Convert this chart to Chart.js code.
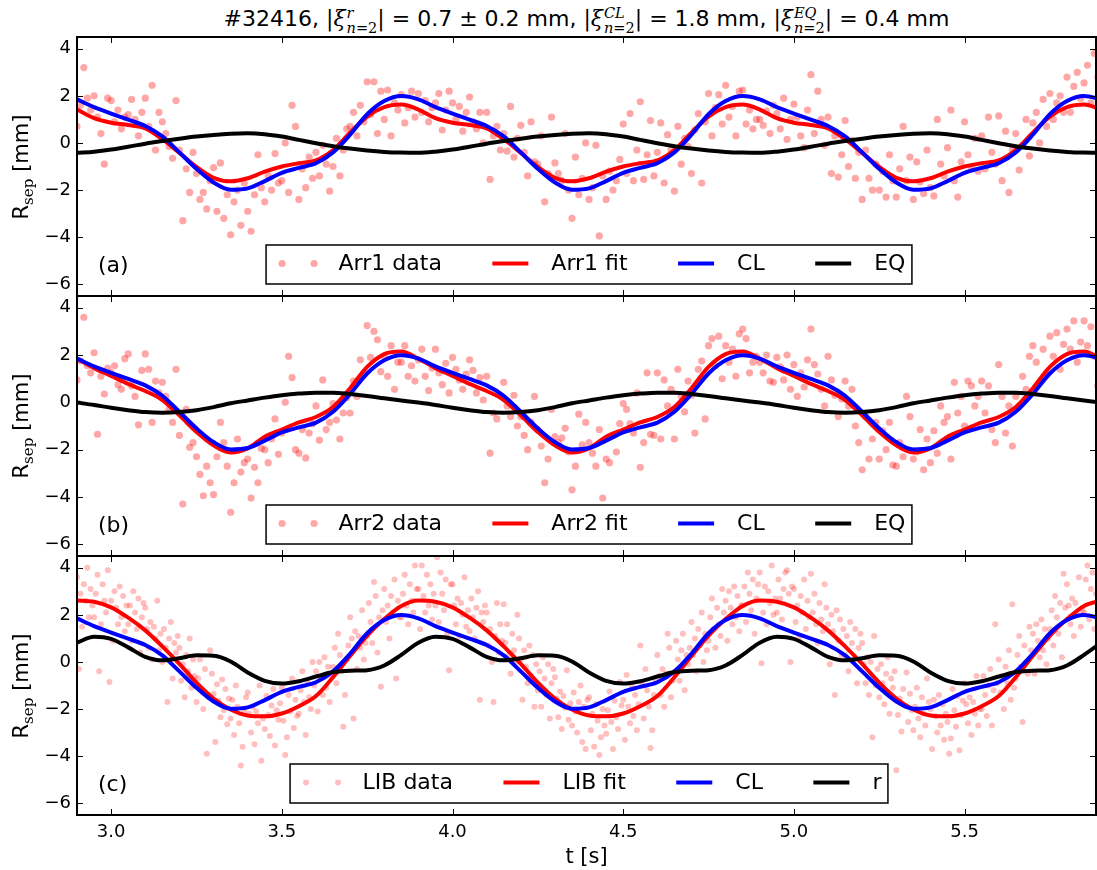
<!DOCTYPE html>
<html>
<head>
<meta charset="utf-8">
<title>#32416 separatrix displacement</title>
<script src="https://cdn.jsdelivr.net/npm/chart.js@4.4.1/dist/chart.umd.min.js"></script>
<style>
html,body{margin:0;padding:0;background:#fff;}
body{width:1097px;height:870px;position:relative;overflow:hidden;font-family:"DejaVu Sans",sans-serif;color:#000;}
canvas{position:absolute;left:0;}
#title{position:absolute;left:586.5px;top:6px;transform:translateX(-50%);font-size:22px;line-height:26px;white-space:nowrap;}
.mt{font-family:"DejaVu Serif",serif;}
.sc{display:inline-block;font-size:0.66em;line-height:1;vertical-align:-0.42em;margin-left:1px;text-align:left;}
.sc span{display:block;}
.ylab{position:absolute;left:21.7px;font-size:21px;line-height:24px;white-space:nowrap;transform:translate(-50%,-50%) rotate(-90deg);}
.ylab .sub{font-family:"DejaVu Serif",serif;font-size:0.72em;position:relative;top:0.32em;}
.plab{position:absolute;left:98px;font-size:22px;line-height:26px;}
</style>
</head>
<body>
<div id="title">#32416, <span class="mt">|<i>ξ</i><span class="sc"><span><i>r</i></span><span><i>n</i>=2</span></span>|</span> = 0.7 <span class="mt">±</span> 0.2 mm, <span class="mt">|<i>ξ</i><span class="sc"><span><i>CL</i></span><span><i>n</i>=2</span></span>|</span> = 1.8 mm, <span class="mt">|<i>ξ</i><span class="sc"><span><i>EQ</i></span><span><i>n</i>=2</span></span>|</span> = 0.4 mm</div>

<canvas id="panelA" width="1097" height="300" style="top:0px"></canvas>
<canvas id="panelB" width="1097" height="270" style="top:290px"></canvas>
<canvas id="panelC" width="1097" height="320" style="top:550px"></canvas>

<div class="ylab" style="top:166.5px">R<span class="sub">sep</span> [mm]</div>
<div class="ylab" style="top:426px">R<span class="sub">sep</span> [mm]</div>
<div class="ylab" style="top:685.5px">R<span class="sub">sep</span> [mm]</div>

<div class="plab" style="top:251.5px">(a)</div>
<div class="plab" style="top:511.5px">(b)</div>
<div class="plab" style="top:770.5px">(c)</div>

<script>
// ---- axis ticks ----
const xTicks = [3.0, 3.5, 4.0, 4.5, 5.0, 5.5];
const yTicks = [4, 2, 0, -2, -4, -6];

// ---- time base of the fitted / model curves [s] ----
const tFit = [
  2.90, 2.95, 3.00, 3.05, 3.10, 3.15, 3.20, 3.25, 3.30, 3.35, 3.40, 3.45, 3.50, 3.55, 3.60, 3.65, 3.70, 3.75, 3.80, 3.85,
  3.90, 3.95, 4.00, 4.05, 4.10, 4.15, 4.20, 4.25, 4.30, 4.35, 4.40, 4.45, 4.50, 4.55, 4.60, 4.65, 4.70, 4.75, 4.80, 4.85,
  4.90, 4.95, 5.00, 5.05, 5.10, 5.15, 5.20, 5.25, 5.30, 5.35, 5.40, 5.45, 5.50, 5.55, 5.60, 5.65, 5.70, 5.75, 5.80, 5.85,
  5.90
];

// CL model displacement [mm] (same in all three panels)
const clModel = [
  1.85, 1.52, 1.25, 0.99, 0.72, 0.28, -0.40, -1.10, -1.68, -1.99, -1.93, -1.62, -1.27, -1.06, -0.86, -0.40, 0.35, 1.22, 1.78, 1.99,
  1.85, 1.52, 1.25, 0.99, 0.72, 0.28, -0.40, -1.10, -1.68, -1.99, -1.93, -1.62, -1.27, -1.06, -0.86, -0.40, 0.35, 1.22, 1.78, 1.99,
  1.85, 1.52, 1.25, 0.99, 0.72, 0.28, -0.40, -1.10, -1.68, -1.99, -1.93, -1.62, -1.27, -1.06, -0.86, -0.40, 0.35, 1.22, 1.78, 1.99,
  1.85
];

// (a) Arr1 fit and EQ model
const arr1Fit = [
  1.42, 1.05, 0.86, 0.76, 0.62, 0.16, -0.42, -1.02, -1.48, -1.63, -1.50, -1.22, -1.00, -0.86, -0.74, -0.30, 0.44, 1.12, 1.52, 1.63,
  1.42, 1.05, 0.86, 0.76, 0.62, 0.16, -0.42, -1.02, -1.48, -1.63, -1.50, -1.22, -1.00, -0.86, -0.74, -0.30, 0.44, 1.12, 1.52, 1.63,
  1.42, 1.05, 0.86, 0.76, 0.62, 0.16, -0.42, -1.02, -1.48, -1.63, -1.50, -1.22, -1.00, -0.86, -0.74, -0.30, 0.44, 1.12, 1.52, 1.63,
  1.42
];
const eqModelA = [
  -0.42, -0.37, -0.28, -0.16, -0.03, 0.08, 0.18, 0.27, 0.34, 0.39, 0.41, 0.37, 0.27, 0.13, -0.01, -0.14, -0.24, -0.32, -0.38, -0.41,
  -0.42, -0.37, -0.28, -0.16, -0.03, 0.08, 0.18, 0.27, 0.34, 0.39, 0.41, 0.37, 0.27, 0.13, -0.01, -0.14, -0.24, -0.32, -0.38, -0.41,
  -0.42, -0.37, -0.28, -0.16, -0.03, 0.08, 0.18, 0.27, 0.34, 0.39, 0.41, 0.37, 0.27, 0.13, -0.01, -0.14, -0.24, -0.32, -0.38, -0.41,
  -0.42
];

// (b) Arr2 fit and EQ model
const arr2Fit = [
  1.85, 1.45, 1.12, 0.78, 0.48, 0.10, -0.55, -1.25, -1.82, -2.12, -1.95, -1.45, -1.15, -0.85, -0.62, -0.20, 0.60, 1.50, 2.04, 2.15,
  1.85, 1.45, 1.12, 0.78, 0.48, 0.10, -0.55, -1.25, -1.82, -2.12, -1.95, -1.45, -1.15, -0.85, -0.62, -0.20, 0.60, 1.50, 2.04, 2.15,
  1.85, 1.45, 1.12, 0.78, 0.48, 0.10, -0.55, -1.25, -1.82, -2.12, -1.95, -1.45, -1.15, -0.85, -0.62, -0.20, 0.60, 1.50, 2.04, 2.15,
  1.85
];
const eqModelB = [
  -0.01, -0.11, -0.23, -0.33, -0.41, -0.44, -0.41, -0.33, -0.20, -0.04, 0.08, 0.20, 0.30, 0.37, 0.41, 0.41, 0.35, 0.27, 0.17, 0.08,
  -0.01, -0.11, -0.23, -0.33, -0.41, -0.44, -0.41, -0.33, -0.20, -0.04, 0.08, 0.20, 0.30, 0.37, 0.41, 0.41, 0.35, 0.27, 0.17, 0.08,
  -0.01, -0.11, -0.23, -0.33, -0.41, -0.44, -0.41, -0.33, -0.20, -0.04, 0.08, 0.20, 0.30, 0.37, 0.41, 0.41, 0.35, 0.27, 0.17, 0.08,
  -0.01
];

// (c) LIB fit and r model
const libFit = [
  2.61, 2.56, 2.32, 1.88, 1.34, 0.66, -0.08, -0.88, -1.55, -2.02, -2.27, -2.31, -2.19, -1.88, -1.45, -0.65, 0.25, 1.12, 1.82, 2.38,
  2.61, 2.56, 2.32, 1.88, 1.34, 0.66, -0.08, -0.88, -1.55, -2.02, -2.27, -2.31, -2.19, -1.88, -1.45, -0.65, 0.25, 1.12, 1.82, 2.38,
  2.61, 2.56, 2.32, 1.88, 1.34, 0.66, -0.08, -0.88, -1.55, -2.02, -2.27, -2.31, -2.19, -1.88, -1.45, -0.65, 0.25, 1.12, 1.82, 2.38,
  2.61
];
const rModel = [
  0.82, 1.07, 0.98, 0.62, 0.22, 0.07, 0.16, 0.28, 0.26, 0.02, -0.45, -0.80, -0.92, -0.82, -0.62, -0.43, -0.37, -0.35, -0.15, 0.30,
  0.82, 1.07, 0.98, 0.62, 0.22, 0.07, 0.16, 0.28, 0.26, 0.02, -0.45, -0.80, -0.92, -0.82, -0.62, -0.43, -0.37, -0.35, -0.15, 0.30,
  0.82, 1.07, 0.98, 0.62, 0.22, 0.07, 0.16, 0.28, 0.26, 0.02, -0.45, -0.80, -0.92, -0.82, -0.62, -0.43, -0.37, -0.35, -0.15, 0.30,
  0.82
];

// ---- measured samples: Arr1 / Arr2 every 10 ms, LIB every 5 ms, from t = 2.90 s ----
const arrStart = 2.90, arrStep = 0.01;
const libStart = 2.90, libStep = 0.005;

const arr1Data = [
  0.7, 1.6, 3.2, 1.9, 1.4,  2.0, 1.1, 0.4, -0.9, 1.9,  1.8, 0.9, 1.4, 0.6, 1.1,  1.2, 1.85, 1.0, 0.3, 1.3,
  1.9, 0.7, 2.45, -0.3, 1.3,  0.9, 0.4, -0.15, -0.65, 1.8,  -0.3, -3.3, -1.1, -2.1, -0.4,  -1.3, -2.4, -2.1, -2.8, -1.6,
  -1.05, -2.9, -0.85, -3.2, -2.2,  -3.9, -2.5, -2.0, -3.5, -1.7,  -2.9, -3.75, -2.2, -0.5, -1.9,  -2.5, -1.4, -2.0, -0.45, -1.7,
  -1.6, 0.0, -2.1, 1.6, 0.7,  -2.4, -1.1, -1.9, -0.6, -1.5,  -0.4, -1.4, -0.1, -0.9, -2.05,  -1.0, 0.2, -1.4, -0.3, 0.6,
  0.7, 1.3, 0.3, 1.6, 0.9,  2.6, 1.2, 2.6, 0.4, 2.2,  1.0, 2.25, 0.3, 1.7, 1.4,  2.05, 0.85, 1.5, 2.2, 1.1,
  2.1, 1.3, 1.8, 0.9, 1.5,  1.7, 2.1, 0.55, 1.4, 2.2,  1.7, 1.0, 1.55, 0.5, 1.3,  1.95, 0.9, 0.6, 1.3, 0.0,
  1.3, -1.55, 0.3, 0.7, -0.3,  0.4, -0.35, 1.55, -0.6, 0.2,  0.75, -0.4, -1.4, 0.9, -0.8,  -0.9, 0.3, -2.5, -1.3, 1.1,
  -0.85, -1.3, -1.6, 0.4, -2.0,  -3.2, -0.6, -2.2, -1.5, 0.0,  -2.4, -1.9, -0.1, -3.95, -1.4,  -2.4, -1.2, -2.0, -1.6, -0.7,
  0.8, -1.3, 1.25, -1.6, -0.3,  1.75, -1.55, -0.5, 0.95, -1.4,  -0.4, 0.85, -1.7, 0.35, -0.3,  -2.05, 0.7, -0.9, 0.2, -0.15,
  -1.3, 0.55, 1.25, -1.7, 0.9,  2.1, 0.3, 1.5, 2.05, 0.8,  2.45, 1.1, 1.55, 0.3, 2.2,  2.25, 0.8, 1.4, 0.6, 1.0,
  1.0, 0.75, 1.35, 0.4, 1.6,  1.25, 0.6, 1.9, 0.15, 1.0,  1.65, 1.1, 0.3, -0.2, 1.4,  2.9, 0.4, 2.2, 1.0, -0.1,
  1.1, -1.3, 0.3, -1.45, -0.5,  0.95, -1.0, 0.1, -1.5, -0.4,  -2.4, -0.3, -1.5, -2.0, -0.9,  -2.0, -1.2, -2.3, -0.5, -1.6,
  -2.3, -1.1, 0.7, -1.6, -0.6,  -2.4, -0.8, -1.65, -2.15, -0.3,  -1.9, -2.25, 1.0, -0.9, -1.4,  -0.2, 1.4, -1.6, -2.3, -0.8,
  0.9, -0.5, -1.0, 0.2, -1.2,  0.3, -1.1, 1.1, -0.4, -0.9,  1.15, -1.6, 0.5, -2.1, -0.3,  0.4, -1.15, -0.1, 1.0, -0.55,
  0.85, 1.3, 0.0, 1.85, 0.7,  2.1, 1.0, 1.7, 2.0, 1.3,  2.8, 1.3, 2.4, 3.0, 1.9,  2.55, 3.3, 1.7, 3.8, 2.8
];

const arr2Data = [
  0.95, 1.75, 3.6, 1.55, 1.25,  2.1, -1.35, 1.1, 0.35, 1.45,  1.25, 1.55, 0.75, 0.55, 1.85,  2.05, 0.7, 0.25, -0.95, 1.35,
  2.05, 1.4, -0.85, 0.9, 0.4,  0.85, 0.25, -0.3, -0.85, 1.4,  -1.4, -4.3, -0.3, -1.9, -1.7,  -2.3, -3.05, -3.95, -2.7, -3.4,
  -3.9, -2.3, -0.85, -1.7, -2.7,  -4.65, -3.4, -1.55, -2.95, -2.55,  -2.4, -4.05, -2.75, -3.4, -1.95,  -2.0, -2.55, -1.55, -0.7, -2.2,
  -1.3, 0.0, 1.95, 1.05, -2.0,  -2.15, -1.15, -2.35, -1.3, -0.9,  -0.15, -1.6, 0.95, -1.15, -0.85,  -0.05, -0.75, -1.55, -0.45, 0.2,
  -0.45, 0.9, 0.25, 1.8, 1.25,  3.25, 1.9, 3.0, 2.65, 1.3,  1.95, 1.1, 2.4, 0.55, 1.7,  1.7, 2.4, 1.1, 1.55, 0.9,
  1.8, 2.25, 1.1, 0.5, 1.45,  2.25, 1.25, 0.75, 1.65, 0.4,  1.9, 1.4, 0.95, 0.55, 1.2,  1.8, 1.35, 0.4, 1.05, 0.1,
  1.1, -2.15, -0.45, -0.7, 0.3,  0.85, -0.15, -0.6, 0.3, -1.0,  -0.6, -1.4, -2.0, -0.85, 0.25,  -1.15, -1.85, -3.4, -2.4, -0.3,
  -1.45, -1.7, -1.5, -1.1, -2.1,  -3.7, -2.7, -0.5, -1.8, -0.85,  -1.7, -2.15, -2.7, -1.15, -4.05,  -2.4, -2.55, -1.4, -2.1, -0.9,
  -0.05, -0.3, -0.9, -1.3, 0.4,  -2.75, -1.7, 1.25, -1.35, -1.4,  1.25, -1.55, 0.95, -0.15, 0.55,  -1.55, 1.4, 0.25, -0.4, 0.9,
  0.3, -1.3, 1.4, 1.75, -0.7,  2.4, 2.7, 1.55, 2.8, 1.0,  2.4, 1.7, 2.25, 1.1, 2.9,  3.1, 2.7, 1.25, 1.7, 1.95,
  1.7, 1.25, 2.0, 0.9, 0.85,  1.9, 1.5, 0.95, 2.0, 0.55,  1.6, 0.25, 1.25, 0.65, 1.8,  3.1, 1.6, 1.2, 0.55, -0.15,
  1.95, 0.95, 0.3, -0.6, 0.15,  0.9, -0.15, 0.55, -1.0, -1.7,  -2.85, -0.6, -2.4, -1.55, -0.85,  -2.4, -1.2, -2.0, -0.85, -2.65,
  -2.7, -1.7, -2.3, 0.25, -0.6,  -2.4, -2.1, -1.15, -2.85, -1.55,  -2.55, -1.2, -2.15, -0.15, -0.85,  -0.6, -2.4, 0.85, -0.45, 0.25,
  -1.0, 0.9, 0.7, -0.15, 0.25,  0.9, -0.45, 0.7, -1.15, -1.7,  1.6, 0.25, -1.3, -0.15, -1.85,  0.25, -0.15, 1.1, 0.55, 1.95,
  2.4, 1.7, 0.85, 2.25, 1.25,  2.8, 1.95, 2.95, 1.4, 2.45,  3.1, 2.25, 3.45, 1.7, 2.55,  3.45, 2.4, 3.2, 1.95, 0.7
];

const libData = [
  3.6, -0.3, 2.9, 1.5, 3.3, 2.6, 4.0, 1.9, 3.1, 2.4,
  1.9, 2.9, 3.7, -0.4, 1.6, 3.3, 2.6, 2.1, 3.9, -0.85,
  2.6, 0.9, 3.0, 2.3, 1.6, 3.2, 1.9, 2.8, 1.3, 2.4,
  1.6, 2.4, 0.9, 3.0, 2.1, 1.4, 2.7, 0.4, 1.9, 2.5,
  2.3, 1.4, 0.6, 1.7, 0.1, 1.5, 1.0, 2.6, 0.5, 1.2,
  0.0, 1.4, 0.6, -1.7, 1.0, 1.7, -0.7, 0.8, 0.4, 1.1,
  0.6, -0.8, -0.1, -1.5, 0.3, -0.4, 1.0, -1.1, 0.1, -0.6,
  -1.7, -0.7, 0.1, -1.2, -2.0, -0.3, -3.9, -1.5, 0.5, -0.5,
  -1.35, -3.4, -0.95, -1.65, -2.35, -0.75, -2.05, -1.15, -2.65, -1.55,
  -2.4, -1.6, -3.1, -1.0, -1.9, -2.6, -4.4, -3.6, -2.1, -1.5,
  -1.3, -2.2, -3.0, -1.9, -3.5, -2.1, -2.6, -1.0, -4.2, -2.4,
  -2.85, -1.45, -2.25, -3.15, -1.85, -1.15, -3.55, -2.05, -2.45, -1.75,
  -1.1, -2.5, -3.95, -3.2, -1.4, -2.1, -0.7, -2.8, -1.6, -2.3,
  -2.2, -1.2, -0.4, -1.7, -3.1, -0.8, -1.5, -2.0, 0.0, -1.0,
  -0.4, -2.1, 0.0, -0.7, -1.4, 0.2, -1.1, -0.2, -1.7, -0.6,
  -0.2, 0.6, -0.9, 1.2, 0.3, -0.4, -2.75, -1.4, 0.1, 0.7,
  1.9, 1.0, -2.4, 1.3, -0.3, 1.1, 0.6, 2.2, 0.1, 0.8,
  1.1, 2.5, 1.7, 0.8, 3.4, 2.8, 0.4, 1.9, -1.05, 2.2,
  3.1, 1.7, 2.4, 1.0, 2.8, 2.1, 3.5, -0.7, 2.6, 1.9,
  1.9, 2.9, 3.7, 2.4, 1.6, 3.3, 2.6, 2.1, 4.1, 3.1,
  3.1, 1.4, 4.1, 2.8, 2.1, 3.7, 2.4, 3.3, 1.8, 2.9,
  2.4, 4.45, 1.7, 3.8, 2.9, 2.2, 3.5, 1.2, -0.35, 3.3,
  3.3, 2.4, 1.6, 2.7, 1.1, 2.5, 2.0, 3.6, 1.5, 2.2,
  1.3, 2.7, 1.9, 1.0, 2.3, 3.0, -1.6, 2.1, 1.7, 2.4,
  2.1, 0.7, 1.4, 0.0, -1.7, 1.1, 2.5, 0.4, 1.6, 0.9,
  2.45, 0.8, 1.6, 0.3, -0.5, 1.2, 0.5, 0.0, 2.0, 1.0,
  0.1, -1.6, 0.5, -0.2, -0.9, 0.7, -0.6, 0.3, -1.9, -0.1,
  -1.2, -0.4, -1.9, 0.2, -0.7, -1.4, -0.1, -2.4, -0.9, -0.3,
  -0.65, -1.55, -2.35, -1.25, -2.85, -1.45, -1.95, -0.35, -2.45, -1.75,
  -2.7, -1.3, -2.1, -3.0, -1.7, -1.0, -3.4, -1.9, -3.7, -1.6,
  -1.5, -2.9, -2.2, -3.6, -1.8, -2.5, -3.95, -3.2, -2.0, -2.7,
  -3.05, -2.05, -1.25, -2.55, -3.7, -1.65, -2.35, -2.85, -0.85, -1.85,
  -1.6, -3.3, -0.55, -1.9, -2.6, -1.0, -2.3, -1.4, -2.9, -1.8,
  0.7, -0.9, -2.4, -0.3, -1.2, -1.9, -3.65, -2.9, -1.4, -0.8,
  0.3, -0.6, -1.4, -0.3, -1.9, -0.5, 1.2, 0.6, -1.5, -0.8,
  -0.5, 0.9, 0.1, -0.8, 0.5, 1.2, -1.2, 0.3, -0.1, 0.6,
  1.7, 0.3, 1.0, -0.4, 1.4, 0.7, 2.1, 0.0, 1.2, 0.5,
  0.9, 1.9, 2.7, 1.4, 0.6, 2.3, 1.6, 1.1, 3.1, 2.1,
  2.6, 0.9, 3.0, 2.3, 1.6, 3.2, 1.9, 2.8, 1.3, 2.4,
  2.4, 3.2, 1.7, 3.8, 2.9, 2.2, 3.5, 1.2, 2.7, 3.3,
  3.8, -0.05, 2.1, 3.2, 1.6, 3.0, 2.5, 4.1, 2.0, 2.7,
  2.1, 3.5, 2.7, 1.8, 3.1, 3.8, 3.9, 2.9, 0.0, 3.2,
  3.1, 1.7, 2.4, 1.0, 2.8, 2.1, 3.5, 1.4, 2.6, 1.9,
  3.75, 2.1, 2.9, 1.6, 0.8, 2.5, 1.8, 1.3, 3.3, 2.3,
  1.6, -0.1, 2.0, 1.3, -1.4, 2.2, 0.9, 1.8, 0.3, 1.4,
  0.3, 1.1, -0.4, 1.7, 0.8, 0.1, 1.4, -0.9, 0.6, 1.2,
  0.8, -0.1, -0.9, 0.2, -1.4, 0.0, -3.2, 1.1, -1.0, -0.3,
  -1.5, -0.1, -0.9, -1.8, -0.5, 0.2, -2.2, -0.7, -1.1, -0.4,
  -4.6, -2.25, -1.55, -2.95, -1.15, -1.85, -0.45, -2.55, -1.35, -2.05,
  -2.9, -1.9, -1.1, -2.4, -3.2, -1.5, -2.2, -2.7, -0.7, -1.7,
  -2.0, -3.7, -1.6, -2.3, -3.0, -1.4, -2.7, -1.8, -3.3, -2.2,
  -2.55, -3.9, -3.25, -1.15, -2.05, -2.75, -1.45, -3.75, -2.25, -1.65,
  -0.9, -1.8, -2.6, -1.5, -3.1, -1.7, -2.2, -0.6, -2.7, -2.0,
  -2.0, -0.6, -1.4, -2.3, -1.0, -0.3, -2.7, -1.2, 1.6, -0.9,
  0.1, -1.3, -0.6, -2.0, -0.2, -0.9, 0.5, -1.6, 2.45, -1.1,
  -0.7, 0.3, 1.1, -0.2, -2.55, 0.7, 0.0, -0.5, 1.5, 0.5,
  1.2, -0.5, 1.6, 0.9, 0.2, 1.8, 0.5, 1.4, -0.1, 1.0,
  1.4, 2.2, 0.7, 2.8, 1.9, 1.2, 2.5, 0.2, 3.75, 2.3,
  3.3, 2.4, 1.6, 2.7, 1.1, 2.5, 2.0, 3.6, 1.5, 2.2,
  2.1, 3.5, 4.1, 1.8, 3.1, 3.8, 1.4, 2.9, 2.5, 3.2
];

// ---- helpers ----
const X_MIN = 2.9, X_MAX = 5.885, Y_MIN = -6.5, Y_MAX = 4.5;
const LEGEND_CENTER_X = 589;
const TICK_FONT = { family: 'DejaVu Sans', size: 18 };

const pairs = (xs, ys) => ys.map((y, i) => ({ x: xs[i], y }));
const sampled = (t0, dt, ys) => ys.map((y, i) => ({ x: +(t0 + i * dt).toFixed(4), y }));

function fitLine(label, xs, ys, color, order) {
  return {
    label, data: pairs(xs, ys), showLine: true, borderColor: color, borderWidth: 4,
    pointRadius: 0, fill: false, cubicInterpolationMode: 'monotone', order, clip: 0
  };
}
function dots(label, pts, color, radius) {
  return {
    label, data: pts, showLine: false, pointRadius: radius, pointBorderWidth: 0,
    backgroundColor: color, borderColor: color, order: 4, clip: 0
  };
}

// keep the plot rectangle exactly where the layout padding puts it
function noEdgePadding(s) {
  s.paddingTop = 0; s.paddingBottom = 0; s.paddingLeft = 0; s.paddingRight = 0;
}

// inward ticks on all four sides plus the axes frame
const axesFrame = {
  id: 'axesFrame',
  afterDatasetsDraw(chart) {
    const { ctx, chartArea: a, scales } = chart;
    const len = 6;
    ctx.save();
    ctx.strokeStyle = '#000';
    ctx.lineWidth = 1;
    ctx.beginPath();
    xTicks.forEach(v => {
      const p = Math.round(scales.x.getPixelForValue(v)) + 0.5;
      ctx.moveTo(p, a.top); ctx.lineTo(p, a.top + len);
      ctx.moveTo(p, a.bottom); ctx.lineTo(p, a.bottom - len);
    });
    yTicks.forEach(v => {
      const p = Math.round(scales.y.getPixelForValue(v)) + 0.5;
      ctx.moveTo(a.left, p); ctx.lineTo(a.left + len, p);
      ctx.moveTo(a.right, p); ctx.lineTo(a.right - len, p);
    });
    ctx.stroke();
    ctx.lineWidth = 2;
    ctx.strokeRect(a.left, a.top, a.right - a.left, a.bottom - a.top);
    ctx.restore();
  }
};

// framed one-row legend placed at the lower centre of the plot area
function panelLegend(entries) {
  return {
    id: 'panelLegend',
    afterDraw(chart) {
      const { ctx, chartArea } = chart;
      const handle = 36, gap = 23, colGap = 50.5, padL = 13.5, padR = 6.5, boxH = 39;
      ctx.save();
      ctx.font = '22px "DejaVu Sans"';
      const widths = entries.map(e => ctx.measureText(e.label).width);
      let total = padL + padR + colGap * (entries.length - 1);
      widths.forEach(w => { total += handle + gap + w; });
      const left = LEGEND_CENTER_X - total / 2;
      const top = chartArea.bottom - 12 - boxH;
      const cy = top + boxH / 2;
      ctx.fillStyle = '#fff';
      ctx.fillRect(left, top, total, boxH);
      ctx.lineWidth = 1.5;
      ctx.strokeStyle = '#000';
      ctx.strokeRect(left, top, total, boxH);
      let x = left + padL;
      entries.forEach((e, i) => {
        if (e.kind === 'dots') {
          ctx.fillStyle = e.color;
          [x + 2.5, x + handle - 1.5].forEach(cx => {
            ctx.beginPath(); ctx.arc(cx, cy - 1, e.radius, 0, Math.PI * 2); ctx.fill();
          });
        } else {
          ctx.strokeStyle = e.color; ctx.lineWidth = 4; ctx.lineCap = 'butt';
          ctx.beginPath(); ctx.moveTo(x, cy - 1); ctx.lineTo(x + handle, cy - 1); ctx.stroke();
        }
        x += handle + gap;
        ctx.fillStyle = '#000';
        ctx.textBaseline = 'middle';
        ctx.textAlign = 'left';
        ctx.fillText(e.label, x, cy);
        x += widths[i] + colGap;
      });
      ctx.restore();
    }
  };
}

function buildPanel(canvasId, datasets, entries, padding, showX) {
  const xScale = {
    type: 'linear', min: X_MIN, max: X_MAX, display: showX,
    grid: { display: false, drawTicks: false }, border: { display: false },
    afterBuildTicks: s => { s.ticks = xTicks.map(v => ({ value: v })); },
    afterFit: s => { noEdgePadding(s); if (showX) s.height = 55; },
    ticks: { font: TICK_FONT, color: '#000', padding: 7, maxRotation: 0, autoSkip: false,
             callback: v => Number(v).toFixed(1) },
    title: { display: showX, text: 't [s]', color: '#000',
             font: { family: 'DejaVu Sans', size: 21 }, padding: { top: 0, bottom: 0 } }
  };
  return new Chart(document.getElementById(canvasId), {
    type: 'scatter',
    data: { datasets },
    options: {
      responsive: false, animation: false, events: [],
      layout: { padding, autoPadding: false },
      plugins: { legend: { display: false }, tooltip: { enabled: false } },
      scales: {
        x: xScale,
        y: {
          type: 'linear', min: Y_MIN, max: Y_MAX,
          grid: { display: false, drawTicks: false }, border: { display: false },
          afterBuildTicks: s => { s.ticks = yTicks.map(v => ({ value: v })); },
          afterFit: s => { noEdgePadding(s); s.width = 77; },
          ticks: { font: TICK_FONT, color: '#000', padding: 6,
                   callback: v => (v < 0 ? '\u2212' + Math.abs(v) : String(v)) }
        }
      }
    },
    plugins: [axesFrame, panelLegend(entries)]
  });
}

const DOT_ARR = 'rgba(255,0,0,0.35)';
const DOT_LIB = 'rgba(255,0,0,0.25)';

// (a) Arr1
buildPanel('panelA', [
  dots('Arr1 data', sampled(arrStart, arrStep, arr1Data), DOT_ARR, 3.6),
  fitLine('Arr1 fit', tFit, arr1Fit, '#ff0000', 3),
  fitLine('CL', tFit, clModel, '#0000ff', 2),
  fitLine('EQ', tFit, eqModelA, '#000000', 1)
], [
  { kind: 'dots', label: 'Arr1 data', color: DOT_ARR, radius: 3.6 },
  { kind: 'line', label: 'Arr1 fit', color: '#ff0000' },
  { kind: 'line', label: 'CL', color: '#0000ff' },
  { kind: 'line', label: 'EQ', color: '#000000' }
], { top: 37, bottom: 4, left: 0, right: 1 }, false);

// (b) Arr2
buildPanel('panelB', [
  dots('Arr2 data', sampled(arrStart, arrStep, arr2Data), DOT_ARR, 3.6),
  fitLine('Arr2 fit', tFit, arr2Fit, '#ff0000', 3),
  fitLine('CL', tFit, clModel, '#0000ff', 2),
  fitLine('EQ', tFit, eqModelB, '#000000', 1)
], [
  { kind: 'dots', label: 'Arr2 data', color: DOT_ARR, radius: 3.6 },
  { kind: 'line', label: 'Arr2 fit', color: '#ff0000' },
  { kind: 'line', label: 'CL', color: '#0000ff' },
  { kind: 'line', label: 'EQ', color: '#000000' }
], { top: 6, bottom: 4, left: 0, right: 1 }, false);

// (c) LIB
buildPanel('panelC', [
  dots('LIB data', sampled(libStart, libStep, libData), DOT_LIB, 3),
  fitLine('LIB fit', tFit, libFit, '#ff0000', 3),
  fitLine('CL', tFit, clModel, '#0000ff', 2),
  fitLine('r', tFit, rModel, '#000000', 1)
], [
  { kind: 'dots', label: 'LIB data', color: DOT_LIB, radius: 3 },
  { kind: 'line', label: 'LIB fit', color: '#ff0000' },
  { kind: 'line', label: 'CL', color: '#0000ff' },
  { kind: 'line', label: 'r', color: '#000000' }
], { top: 6, bottom: 0, left: 0, right: 1 }, true);
</script>
</body>
</html>
